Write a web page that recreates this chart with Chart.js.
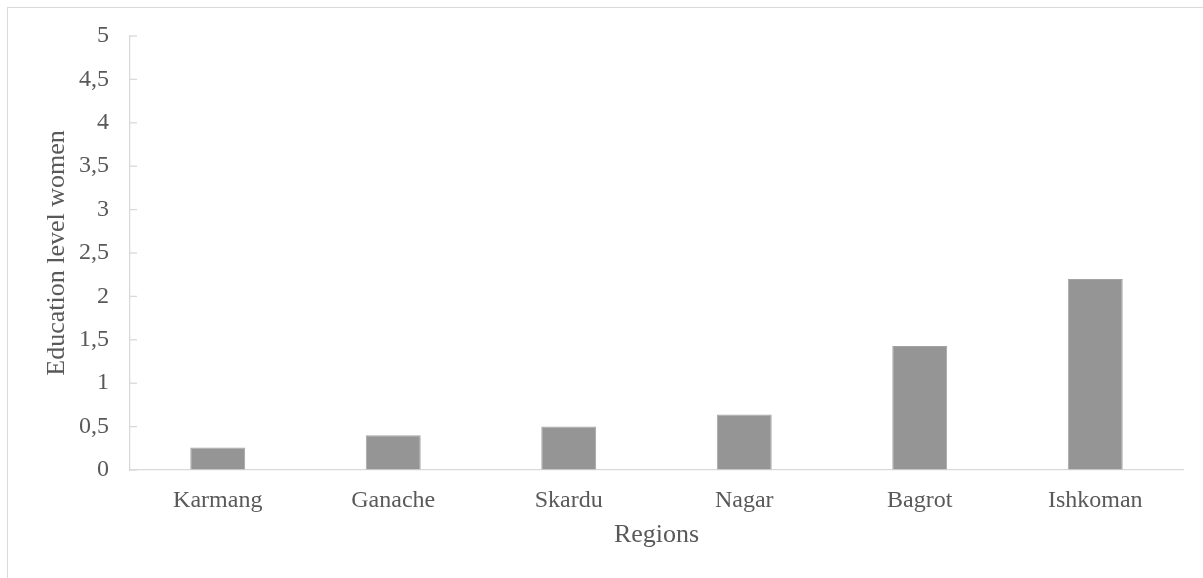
<!DOCTYPE html>
<html>
<head>
<meta charset="utf-8">
<script src="https://cdn.jsdelivr.net/npm/chart.js@4/dist/chart.umd.min.js"></script>
<style>
  html, body { margin: 0; padding: 0; background: #fff; overflow: hidden; }
  #wrap { position: relative; width: 1203px; height: 578px; }
  #frame { position: absolute; left: 7px; top: 7px; width: 1220px; height: 600px;
           border: 1px solid #d9d9d9; pointer-events: none; }
  canvas { position: absolute; left: 0; top: 0; }
</style>
</head>
<body>
<div id="wrap">
  <canvas id="graficaEducacion" width="1203" height="578"></canvas>
  <div id="frame"></div>
</div>
<script>
const regiones = ['Karmang', 'Ganache', 'Skardu', 'Nagar', 'Bagrot', 'Ishkoman'];
const nivelEducacion = [0.26, 0.4, 0.5, 0.64, 1.43, 2.2];
const yMax = 5;
const yStep = 0.5;

const fuente = '"Liberation Serif", "Times New Roman", serif';

// marcas cortas del eje y hacia dentro del area
const marcasY = {
  id: 'marcasY',
  afterDraw(chart) {
    const y = chart.scales.y;
    const c = chart.ctx;
    c.save();
    c.strokeStyle = '#d9d9d9';
    c.lineWidth = 1.3;
    y.ticks.forEach((t, i) => {
      const py = y.getPixelForTick(i);
      c.beginPath();
      c.moveTo(y.right, py);
      c.lineTo(y.right + 7, py);
      c.stroke();
    });
    c.restore();
  }
};

document.addEventListener("DOMContentLoaded", () => {
  const ctx = document.getElementById('graficaEducacion').getContext('2d');

  new Chart(ctx, {
    type: 'bar',
    data: {
      labels: regiones,
      datasets: [{
        label: 'Education level women',
        data: nivelEducacion,
        backgroundColor: '#959595',
        borderColor: '#a3a3a3',
        borderWidth: 1,
        categoryPercentage: 1,
        barPercentage: 0.313
      }]
    },
    plugins: [marcasY],
    options: {
      responsive: false,
      animation: false,
      layout: { padding: { top: 36, right: 20, left: 0, bottom: 0 } },
      plugins: {
        legend: { display: false },
        tooltip: { enabled: false }
      },
      scales: {
        x: {
          afterFit: s => { s.height = 108; },
          title: {
            display: true,
            text: 'Regions',
            color: '#595959',
            font: { family: fuente, size: 26, lineHeight: 1.2 },
            padding: { top: 0, bottom: 27 }
          },
          ticks: {
            color: '#595959',
            font: { family: fuente, size: 24 },
            padding: 8,
            maxRotation: 0
          },
          grid: { display: false },
          border: { display: true, color: '#d9d9d9', width: 1.3 }
        },
        y: {
          min: 0,
          max: yMax,
          afterFit: s => { s.width = 130; },
          title: {
            display: true,
            text: 'Education level women',
            color: '#595959',
            font: { family: fuente, size: 26, lineHeight: 1.2 },
            padding: { top: 42, bottom: 0 }
          },
          ticks: {
            stepSize: yStep,
            color: '#595959',
            font: { family: fuente, size: 24 },
            padding: 21,
            callback: value => String(value).replace('.', ',')
          },
          grid: { display: true, drawOnChartArea: false, drawTicks: false },
          border: { display: true, color: '#d9d9d9', width: 1.3 }
        }
      }
    }
  });
});
</script>
</body>
</html>
